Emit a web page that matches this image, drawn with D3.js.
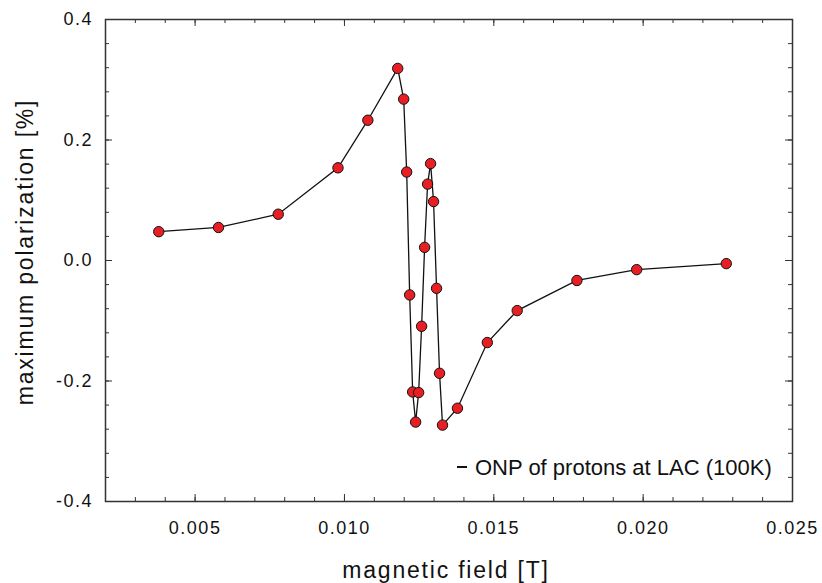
<!DOCTYPE html>
<html>
<head>
<meta charset="utf-8">
<script src="https://cdn.jsdelivr.net/npm/d3@7"></script>
<style>
body { margin: 0; background: #fff; }
text { font-family: "Liberation Sans", Arial, sans-serif; fill: #111; }
</style>
</head>
<body>
<svg width="822" height="583"></svg>
<script>
// magnetic field in T
var fieldT = [0.0038, 0.0058, 0.0078, 0.0098, 0.0108, 0.0118, 0.0120, 0.0121, 0.0122, 0.0123,
	0.0124, 0.0125, 0.0126, 0.0127, 0.0128, 0.0129, 0.0130, 0.0131, 0.0132, 0.0133,
	0.0138, 0.0148, 0.0158, 0.0178, 0.0198, 0.0228];
// maximum polarization in %
var polarization = [0.047, 0.054, 0.076, 0.153, 0.232, 0.318, 0.267, 0.146, -0.058, -0.219,
	-0.269, -0.220, -0.110, 0.021, 0.126, 0.160, 0.097, -0.047, -0.188, -0.274,
	-0.246, -0.137, -0.084, -0.034, -0.016, -0.006];

var xTicks = [0.005, 0.010, 0.015, 0.020, 0.025];
var yTicks = [-0.4, -0.2, 0.0, 0.2, 0.4];
var legendLabel = "ONP of protons at LAC (100K)";

var margin = {left: 105, right: 30, top: 19, bottom: 82};
var width = 822, height = 583;

var svg = d3.select('svg');

var x = d3.scaleLinear().domain([0.002, 0.025]).range([margin.left, width - margin.right]);
var y = d3.scaleLinear().domain([-0.4, 0.4]).range([height - margin.bottom, margin.top]);

var xMinor = d3.range(3, 26).map(function(d) {return d / 1000;}); // every 0.001
var yMinor = d3.range(-10, 11).map(function(d) {return d * 0.04;}); // every 0.04

var x0 = x.range()[0], x1 = x.range()[1];
var y0 = y.range()[0], y1 = y.range()[1];

// minor ticks, all four sides, pointing in
function minorAxis(axis, tx, ty) {
	svg.append('g')
		.attr('transform', 'translate(' + tx + ',' + ty + ')')
		.call(axis)
		.call(function(g) {g.select('.domain').remove();});
}
minorAxis(d3.axisBottom(x).tickValues(xMinor).tickSize(-4).tickFormat(''), 0, y0);
minorAxis(d3.axisTop(x).tickValues(xMinor).tickSize(-4).tickFormat(''), 0, y1);
minorAxis(d3.axisLeft(y).tickValues(yMinor).tickSize(-4).tickFormat(''), x0, 0);
minorAxis(d3.axisRight(y).tickValues(yMinor).tickSize(-4).tickFormat(''), x1, 0);

// major ticks + labels
var gx = svg.append('g')
	.attr('transform', 'translate(0,' + y0 + ')')
	.call(d3.axisBottom(x).tickValues(xTicks).tickSize(-7).tickPadding(20)
		.tickFormat(function(d) {return d.toFixed(3);}));
var gy = svg.append('g')
	.attr('transform', 'translate(' + x0 + ',0)')
	.call(d3.axisLeft(y).tickValues(yTicks).tickSize(-7).tickPadding(12)
		.tickFormat(function(d) {return d.toFixed(1);}));
svg.append('g')
	.attr('transform', 'translate(0,' + y1 + ')')
	.call(d3.axisTop(x).tickValues(xTicks).tickSize(-7).tickFormat(''));
svg.append('g')
	.attr('transform', 'translate(' + x1 + ',0)')
	.call(d3.axisRight(y).tickValues(yTicks).tickSize(-7).tickFormat(''));

svg.selectAll('.domain').remove();
svg.selectAll('.tick line').attr('stroke', '#333').attr('stroke-width', 1);
gx.selectAll('text').style('font-size', '18px').style('letter-spacing', '1.5px').attr('fill', '#111');
gy.selectAll('text').style('font-size', '18px').style('letter-spacing', '1.5px').attr('fill', '#111');

// frame
svg.append('rect')
	.attr('x', x0 + 0.5).attr('y', y1 + 0.5)
	.attr('width', x1 - x0).attr('height', y0 - y1)
	.attr('fill', 'none').attr('stroke', '#333').attr('stroke-width', 1.5);

// axis titles
svg.append('text')
	.attr('x', 446).attr('y', 578)
	.attr('text-anchor', 'middle')
	.style('font-size', '23px')
	.style('letter-spacing', '1.8px')
	.text('magnetic field [T]');
svg.append('text')
	.attr('transform', 'translate(33,252) rotate(-90)')
	.attr('text-anchor', 'middle')
	.style('font-size', '23px')
	.style('letter-spacing', '1.8px')
	.text('maximum polarization [%]');

// data
var pts = fieldT.map(function(d, i) {return {x: d, y: polarization[i]};});

var line = d3.line()
	.x(function(d) {return x(d.x);})
	.y(function(d) {return y(d.y);});

svg.append('path')
	.datum(pts)
	.attr('d', line)
	.attr('fill', 'none')
	.attr('stroke', '#111')
	.attr('stroke-width', 1.3);

svg.selectAll('circle')
	.data(pts)
	.enter()
	.append('circle')
	.attr('cx', function(d) {return x(d.x);})
	.attr('cy', function(d) {return y(d.y);})
	.attr('r', 5.2)
	.attr('fill', '#e81e25')
	.attr('stroke', '#111')
	.attr('stroke-width', 1);

// legend
var lg = svg.append('g');
lg.append('line')
	.attr('x1', 457).attr('x2', 467)
	.attr('y1', 467).attr('y2', 467)
	.attr('stroke', '#111').attr('stroke-width', 2);
lg.append('text')
	.attr('x', 475).attr('y', 475)
	.style('font-size', '22px')
	.text(legendLabel);
</script>
</body>
</html>
